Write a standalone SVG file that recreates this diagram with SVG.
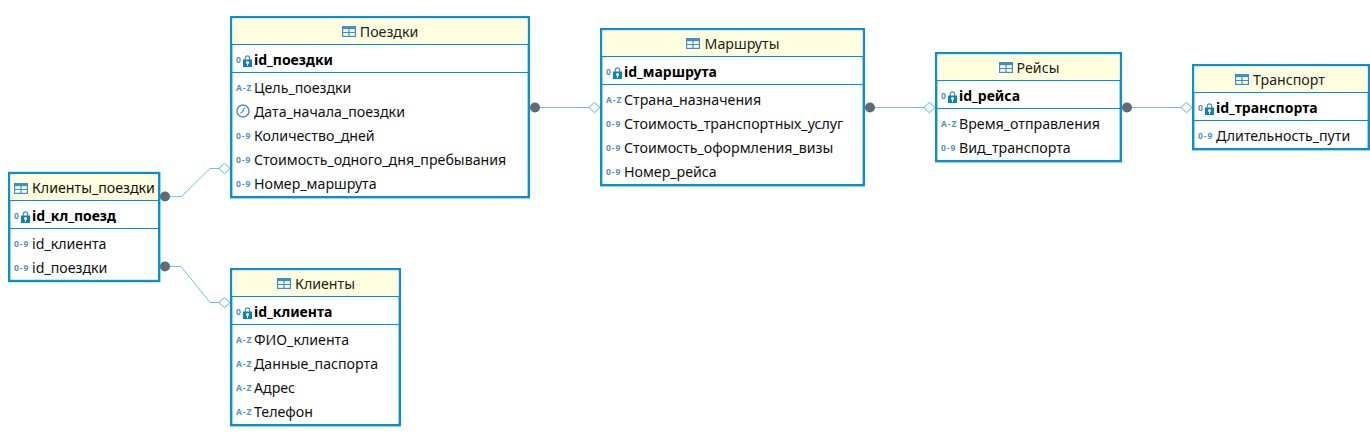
<svg xmlns="http://www.w3.org/2000/svg" width="1370" height="447" viewBox="0 0 1370 447">
<style>
text{font-family:"Noto Sans","Open Sans","Liberation Sans",sans-serif;fill:#111}
.box{fill:#fff;stroke:#0a8fd0;stroke-width:2.4}
.head{fill:#ffffe0}
.sep{stroke:#0a8fd0;stroke-width:1.2}
.t{font-size:14.2px;text-anchor:middle;fill:#222}
.c{font-size:14.2px}
.k{font-size:14px;font-weight:700;fill:#000}
.ic{font-size:8.5px;font-weight:700;fill:#4a93cf;letter-spacing:.9px}
.conn{fill:none;stroke:#6cc3e6;stroke-width:1}
</style>
<defs>
<symbol id="tb" width="14" height="11" viewBox="0 0 14 11"><rect x=".6" y=".6" width="12.8" height="9.8" fill="#fff" stroke="#3f8fc9" stroke-width="1.2"/><rect x=".6" y=".6" width="12.8" height="2.6" fill="#3f8fc9"/><path d="M7 3v7M1 6.500h12" stroke="#3f8fc9" stroke-width="1.2"/></symbol>
<symbol id="lk" width="9" height="12" viewBox="0 0 9 12"><path d="M2.300 5V3a2.200 2.200 0 0 1 4.400 0v2" fill="none" stroke="#5a8fb5" stroke-width="1.200"/><rect x="0" y="4.500" width="9" height="7.500" fill="#0f7fc4"/><circle cx="4.500" cy="7.500" r="1.500" fill="#fff"/><path d="M4.500 8.500v2.500" stroke="#fff"/></symbol>
<symbol id="clk" width="14" height="14" viewBox="0 0 14 14"><circle cx="7" cy="7" r="6" fill="#fff" stroke="#4a93cf" stroke-width="1.500"/><path d="M8.500 3.500 6.800 7.500 4.500 9" fill="none" stroke="#4a93cf" stroke-width="1.200"/></symbol>
<marker id="dot" markerUnits="userSpaceOnUse" markerWidth="12" markerHeight="12" refX="6" refY="6"><circle cx="6" cy="6" r="5" fill="#5f6b75"/></marker>
<marker id="dia" markerUnits="userSpaceOnUse" markerWidth="14" markerHeight="12" refX="12" refY="6" orient="auto"><path d="M.8 6 6.500 .8 12 6 6.500 11.200Z" fill="#fff" stroke="#55b5de"/></marker>
</defs>
<g id="connectors">
<path class="conn" marker-start="url(#dot)" marker-end="url(#dia)" d="M165 196.500H181.500L210 168.500H230"/>
<path class="conn" marker-start="url(#dot)" marker-end="url(#dia)" d="M165 266.500H181L210 302.500H230"/>
<path class="conn" marker-start="url(#dot)" marker-end="url(#dia)" d="M535 107.500H600"/>
<path class="conn" marker-start="url(#dot)" marker-end="url(#dia)" d="M870 107.500H935"/>
<path class="conn" marker-start="url(#dot)" marker-end="url(#dia)" d="M1127 107.500H1192"/>
</g>
<g id="n-kp">
<rect class="box" x="9.200" y="173" width="150" height="108"/><rect class="head" x="10.400" y="174.200" width="147.600" height="25.800"/>
<path class="sep" d="M9 200.500H159M9 228.500H159"/>
<use href="#tb" x="14" y="183"/><text class="c" x="32" y="193" fill="#222">Клиенты_поездки</text>
<text class="ic" x="14" y="219">0</text><use href="#lk" x="21" y="211"/><text class="k" x="32" y="221">id_кл_поезд</text>
<text class="ic" x="14" y="246.500">0-9</text><text class="c" x="32" y="249">id_клиента</text>
<text class="ic" x="14" y="270.500">0-9</text><text class="c" x="32" y="273">id_поездки</text>
</g>
<g id="n-trip">
<rect class="box" x="231.200" y="17.200" width="297.600" height="180"/><rect class="head" x="232.400" y="18.400" width="295.200" height="25.600"/>
<path class="sep" d="M231 44.500H529M231 72.500H529"/>
<use href="#tb" x="342" y="26"/><text class="t" x="389" y="37">Поездки</text>
<text class="ic" x="236" y="63">0</text><use href="#lk" x="243" y="55"/><text class="k" x="254" y="65">id_поездки</text>
<text class="ic" x="236" y="90.500">A-Z</text><text class="c" x="254" y="93">Цель_поездки</text>
<use href="#clk" x="236" y="104"/><text class="c" x="254" y="117">Дата_начала_поездки</text>
<text class="ic" x="236" y="138.500">0-9</text><text class="c" x="254" y="141">Количество_дней</text>
<text class="ic" x="236" y="162.500">0-9</text><text class="c" x="254" y="165">Стоимость_одного_дня_пребывания</text>
<text class="ic" x="236" y="186.500">0-9</text><text class="c" x="254" y="189">Номер_маршрута</text>
</g>
<g id="n-route">
<rect class="box" x="601.200" y="29.200" width="262.600" height="156"/><rect class="head" x="602.400" y="30.400" width="260.200" height="25.600"/>
<path class="sep" d="M601 56.500H864M601 84.500H864"/>
<use href="#tb" x="686" y="38"/><text class="t" x="742" y="49">Маршруты</text>
<text class="ic" x="606" y="75">0</text><use href="#lk" x="613" y="67"/><text class="k" x="624" y="77">id_маршрута</text>
<text class="ic" x="606" y="102.500">A-Z</text><text class="c" x="624" y="105">Страна_назначения</text>
<text class="ic" x="606" y="126.500">0-9</text><text class="c" x="624" y="129">Стоимость_транспортных_услуг</text>
<text class="ic" x="606" y="150.500">0-9</text><text class="c" x="624" y="153">Стоимость_оформления_визы</text>
<text class="ic" x="606" y="174.500">0-9</text><text class="c" x="624" y="177">Номер_рейса</text>
</g>
<g id="n-flight">
<rect class="box" x="936.200" y="53.200" width="184.600" height="108"/><rect class="head" x="937.400" y="54.400" width="182.200" height="25.600"/>
<path class="sep" d="M936 80.500H1121M936 108.500H1121"/>
<use href="#tb" x="999" y="62"/><text class="t" x="1038" y="73">Рейсы</text>
<text class="ic" x="941" y="99">0</text><use href="#lk" x="948" y="91"/><text class="k" x="959" y="101">id_рейса</text>
<text class="ic" x="941" y="126.500">A-Z</text><text class="c" x="959" y="129">Время_отправления</text>
<text class="ic" x="941" y="150.500">0-9</text><text class="c" x="959" y="153">Вид_транспорта</text>
</g>
<g id="n-transport">
<rect class="box" x="1193.200" y="65.200" width="175.600" height="84"/><rect class="head" x="1194.400" y="66.400" width="173.200" height="25.600"/>
<path class="sep" d="M1193 92.500H1369M1193 120.500H1369"/>
<use href="#tb" x="1235" y="74"/><text class="t" x="1289" y="85">Транспорт</text>
<text class="ic" x="1198" y="111">0</text><use href="#lk" x="1205" y="103"/><text class="k" x="1216" y="113">id_транспорта</text>
<text class="ic" x="1198" y="138.500">0-9</text><text class="c" x="1216" y="141">Длительность_пути</text>
</g>
<g id="n-client">
<rect class="box" x="231.200" y="269.200" width="168.600" height="156"/><rect class="head" x="232.400" y="270.400" width="166.200" height="25.600"/>
<path class="sep" d="M231 296.500H400M231 324.500H400"/>
<use href="#tb" x="277" y="278"/><text class="t" x="325" y="289">Клиенты</text>
<text class="ic" x="236" y="315">0</text><use href="#lk" x="243" y="307"/><text class="k" x="254" y="317">id_клиента</text>
<text class="ic" x="236" y="342.500">A-Z</text><text class="c" x="254" y="345">ФИО_клиента</text>
<text class="ic" x="236" y="366.500">A-Z</text><text class="c" x="254" y="369">Данные_паспорта</text>
<text class="ic" x="236" y="390.500">A-Z</text><text class="c" x="254" y="393">Адрес</text>
<text class="ic" x="236" y="414.500">A-Z</text><text class="c" x="254" y="417">Телефон</text>
</g>
</svg>
